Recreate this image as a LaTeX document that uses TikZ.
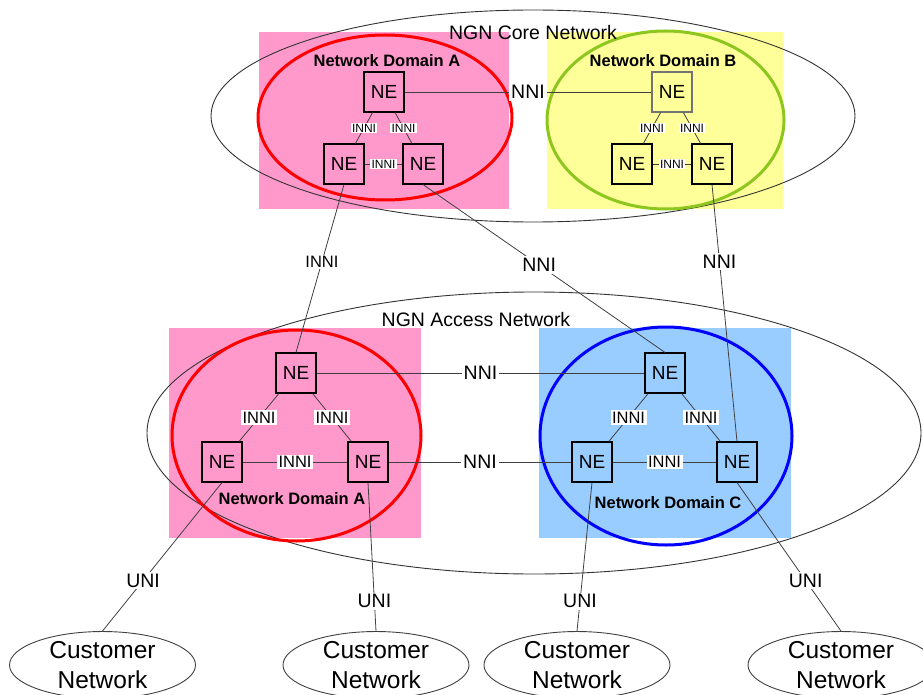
\documentclass[tikz,border=0pt]{standalone}
\usepackage{fontspec}
\setmainfont{Liberation Sans}
\usetikzlibrary{shapes.geometric}

\definecolor{pinkdom}{RGB}{255,153,204}
\definecolor{yellowdom}{RGB}{255,255,153}
\definecolor{bluedom}{RGB}{153,204,255}
\definecolor{greenring}{RGB}{140,198,30}

\begin{document}
\begin{tikzpicture}[x=1pt,y=-1pt,
  ne/.style={draw=black, line width=1.1pt, minimum size=40pt, inner sep=0pt,
             font=\fontsize{19}{22}\selectfont},
  link/.style={draw=black!75, line width=0.8pt},
  lbl/.style={fill=white, inner sep=1.5pt, font=\fontsize{16.5}{19}\selectfont},
  lblsmall/.style={fill=white, inner sep=1.2pt, font=\fontsize{12}{14}\selectfont},
  lblbig/.style={fill=white, inner sep=2pt, font=\fontsize{19.5}{22}\selectfont},
  domtitle/.style={font=\bfseries\fontsize{16.5}{19}\selectfont},
  nettitle/.style={font=\fontsize{19.5}{22}\selectfont},
  netring/.style={draw=black!80, line width=0.9pt},
  domring/.style={line width=3pt},
  customer/.style={ellipse, draw=black!75, line width=0.9pt, minimum width=186pt,
             minimum height=64pt, inner sep=0pt, align=center,
             font=\fontsize{24.5}{30}\selectfont}
]
\useasboundingbox (0,0) rectangle (923,695);
\clip (0,0) rectangle (923,695);

% domain backgrounds
\fill[pinkdom]   (259,32)  rectangle (509,209);
\fill[yellowdom] (547,32)  rectangle (783,209);
\fill[pinkdom]   (169,328) rectangle (421,538);
\fill[bluedom]   (539,328) rectangle (791,538);

% network boundaries
\draw[netring] (533,116) ellipse [x radius=322, y radius=106];
\draw[netring] (534,433) ellipse [x radius=387, y radius=141];

% domain rings
\draw[domring, red]       (385,117.5) ellipse [x radius=127, y radius=82.5];
\draw[domring, greenring] (665.5,120) ellipse [x radius=118.5, y radius=89];
\draw[domring, red]       (296.5,435.5) ellipse [x radius=124.5, y radius=105.5];
\draw[domring, blue]      (666,436) ellipse [x radius=126, y radius=109];

% titles
\node[nettitle] (coretitle) at (533,33) {NGN Core Network};
\node[nettitle] (accesstitle) at (476,320) {NGN Access Network};
\node[domtitle] (tA) at (387,61) {Network Domain A};
\node[domtitle] (tB) at (663,61) {Network Domain B};
\node[domtitle] (tAa) at (292,499) {Network Domain A};
\node[domtitle] (tC) at (668,503) {Network Domain C};

% network elements, core
\node[ne] (cAt) at (384,92)  {NE};
\node[ne] (cAl) at (344,164) {NE};
\node[ne] (cAr) at (423,164) {NE};
\node[ne, draw=black!55] (cBt) at (672,92)  {NE};
\node[ne] (cBl) at (632,164) {NE};
\node[ne] (cBr) at (712,164) {NE};

% network elements, access
\node[ne] (aAt) at (296,373) {NE};
\node[ne] (aAl) at (222,462) {NE};
\node[ne] (aAr) at (368,462) {NE};
\node[ne] (aCt) at (665,373) {NE};
\node[ne] (aCl) at (592,462) {NE};
\node[ne] (aCr) at (737,462) {NE};

% customer networks
\node[customer] (cu1) at (102.5,665) {Customer\\Network};
\node[customer] (cu2) at (376,665)   {Customer\\Network};
\node[customer] (cu3) at (577,665)   {Customer\\Network};
\node[customer] (cu4) at (841,665)   {Customer\\Network};

% links inside the core domains
\draw[link] (cAt) -- node[lblsmall] {INNI} (cAl);
\draw[link] (cAt) -- node[lblsmall] {INNI} (cAr);
\draw[link] (cAl) -- node[lblsmall] {INNI} (cAr);
\draw[link] (cBt) -- node[lblsmall] {INNI} (cBl);
\draw[link] (cBt) -- node[lblsmall] {INNI} (cBr);
\draw[link] (cBl) -- node[lblsmall] {INNI} (cBr);
\draw[link] (cAt) -- node[lblbig] {NNI} (cBt);

% links inside the access domains
\draw[link] (aAt) -- node[lbl] {INNI} (aAl);
\draw[link] (aAt) -- node[lbl] {INNI} (aAr);
\draw[link] (aAl) -- node[lbl] {INNI} (aAr);
\draw[link] (aCt) -- node[lbl] {INNI} (aCl);
\draw[link] (aCt) -- node[lbl] {INNI} (aCr);
\draw[link] (aCl) -- node[lbl] {INNI} (aCr);
\draw[link] (aAt) -- node[lblbig] {NNI} (aCt);
\draw[link] (aAr) -- node[lblbig] {NNI} (aCl);

% core to access
\draw[link] (cAl.south) -- node[lbl, pos=0.46] {INNI} (aAt.north);
\draw[link] (cAr.south) -- node[lblbig, pos=0.48] {NNI} (aCt.north);
\draw[link] (cBr.south) -- node[lblbig, pos=0.30] {NNI} (aCr.north);

% access to customers
\draw[link] (aAl.south) -- node[lblbig, pos=0.66] {UNI} (cu1.north);
\draw[link] (aAr.south) -- node[lblbig, pos=0.80] {UNI} (cu2.north);
\draw[link] (aCl.south) -- node[lblbig, pos=0.80] {UNI} (cu3.north);
\draw[link] (aCr.south) -- node[lblbig, pos=0.66] {UNI} (cu4.north);
\end{tikzpicture}
\end{document}
